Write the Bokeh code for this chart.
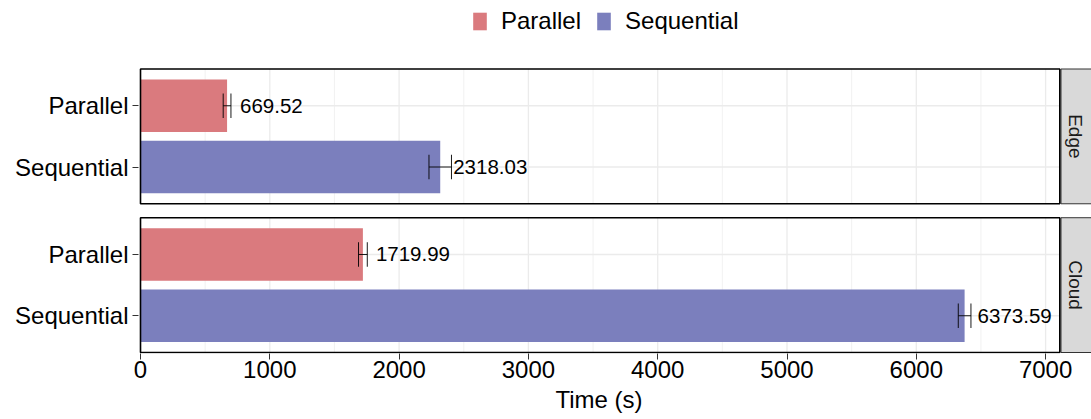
import math
from bokeh.plotting import figure
from bokeh.models import (Range1d, FixedTicker, Legend, LegendItem, ColumnDataSource,
                          CustomJSTickFormatter, Title)
from bokeh.embed import file_html
from bokeh.resources import INLINE
from bokeh.core.properties import value

# ---- data ----
panels = ["Edge", "Cloud"]
methods = ["Parallel", "Sequential"]
edge_times = [669.52, 2318.03]
edge_err = [30, 87]
cloud_times = [1719.99, 6373.59]
cloud_err = [34, 49]
x_ticks = [0, 1000, 2000, 3000, 4000, 5000, 6000, 7000]
x_minor = [500, 1500, 2500, 3500, 4500, 5500, 6500]
x_title = "Time (s)"
colors = ["#DA7A7E", "#7B7FBD"]

FONT = "Liberation Sans"
PANEL_XMAX = 7110
GAP = 0.228          # gap between panels, in category units
SPAN = 2.2           # panel height in category units

panel_data = {"Edge": (edge_times, edge_err), "Cloud": (cloud_times, cloud_err)}
panel_base = {"Cloud": 0.0, "Edge": SPAN + GAP}
method_off = {"Parallel": 1.0, "Sequential": 0.0}

def ypos(panel, method):
    return panel_base[panel] + method_off[method]

panel_lo = [panel_base[pn] - 0.6 for pn in panels]
panel_hi = [panel_base[pn] + 1.6 for pn in panels]
panel_mid = [panel_base[pn] + 0.5 for pn in panels]

ylo = panel_lo[1]
yhi = panel_hi[0]
pxu = 283.5 / (yhi - ylo)   # pixels per category unit

p = figure(width=1091, height=419, output_backend="svg", toolbar_location=None,
           x_range=Range1d(-15.5, 7355),
           y_range=Range1d(ylo - 1.0 / pxu, yhi + 68.5 / pxu),
           min_border_left=138, min_border_right=0, min_border_top=0, min_border_bottom=66)
p.outline_line_color = None
p.xgrid.visible = False
p.ygrid.visible = False
p.background_fill_color = "white"
p.border_fill_color = "white"

# gridlines (drawn per panel)
for lo, hi in zip(panel_lo, panel_hi):
    p.segment(x0=x_minor, x1=x_minor, y0=[lo] * len(x_minor), y1=[hi] * len(x_minor),
              line_color="#EBEBEB", line_width=0.7)
    p.segment(x0=x_ticks, x1=x_ticks, y0=[lo] * len(x_ticks), y1=[hi] * len(x_ticks),
              line_color="#EBEBEB", line_width=1.3)
all_y = []
all_names = []
for pn in panels:
    for m in methods:
        all_y.append(ypos(pn, m))
        all_names.append(m)
p.segment(x0=[0] * len(all_y), x1=[PANEL_XMAX] * len(all_y), y0=all_y, y1=all_y,
          line_color="#EBEBEB", line_width=1.3)

# bars, error bars, value labels
renderers = []
for mi, m in enumerate(methods):
    ys, vals, errs, labs = [], [], [], []
    for pn in panels:
        t, e = panel_data[pn]
        ys.append(ypos(pn, m))
        vals.append(t[mi])
        errs.append(e[mi])
        labs.append("%.2f" % t[mi])
    src = ColumnDataSource(dict(y=ys, v=vals, lo=[a - b for a, b in zip(vals, errs)],
                                hi=[a + b for a, b in zip(vals, errs)], lab=labs,
                                c0=[yy - 0.2 for yy in ys], c1=[yy + 0.2 for yy in ys]))
    r = p.hbar(y="y", left=0, right="v", height=0.86, source=src,
               fill_color=colors[mi], line_color=None)
    renderers.append(r)
    p.segment(x0="lo", x1="hi", y0="y", y1="y", source=src, line_color="black", line_width=0.9)
    p.segment(x0="lo", x1="lo", y0="c0", y1="c1", source=src, line_color="black", line_width=0.9)
    p.segment(x0="hi", x1="hi", y0="c0", y1="c1", source=src, line_color="black", line_width=0.9)
    p.text(x="v", y="y", text="lab", source=src, x_offset=13, text_align="left",
           text_baseline="middle", text_font=value(FONT), text_font_size="20.5px",
           text_color="black")

# facet strips
p.quad(left=[PANEL_XMAX + 9] * 2, right=[7400] * 2, bottom=panel_lo, top=panel_hi,
       fill_color="#D9D9D9", line_color="#333333", line_width=1)
p.text(x=[7233] * 2, y=panel_mid, text=panels, angle=-math.pi / 2, text_align="center",
       text_baseline="middle", text_font=value(FONT), text_font_size="19px",
       text_color="#1A1A1A")

# panel borders
p.quad(left=[0] * 2, right=[PANEL_XMAX] * 2, bottom=panel_lo, top=panel_hi,
       fill_color=None, line_color="black", line_width=1.6)

# axes
xa = p.xaxis[0]
xa.ticker = FixedTicker(ticks=x_ticks)
xa.axis_line_color = None
xa.major_tick_out = 6
xa.major_tick_in = 0
xa.minor_tick_out = 0
xa.minor_tick_in = 0
xa.major_tick_line_color = "#333333"
xa.major_label_text_font = FONT
xa.major_label_text_font_size = "24px"
xa.major_label_text_color = "black"
xa.major_label_standoff = 1

# axis title centred on the panel (not on the frame, which also holds the strips)
xt = Title(text=x_title, align="left", offset=417, text_font=FONT,
           text_font_size="24px", text_font_style="normal", text_color="black", standoff=7)
p.add_layout(xt, "below")

ya = p.yaxis[0]
ya.ticker = FixedTicker(ticks=all_y)
ya.formatter = CustomJSTickFormatter(args=dict(ys=all_y, names=all_names), code="""
let best = 0, bd = 1e9;
for (let i = 0; i < ys.length; i++) {
  const d = Math.abs(ys[i] - tick);
  if (d < bd) { bd = d; best = i; }
}
return names[best];
""")
ya.axis_line_color = None
ya.major_tick_out = 6
ya.major_tick_in = 0
ya.minor_tick_out = 0
ya.minor_tick_in = 0
ya.major_tick_line_color = "#333333"
ya.major_label_text_font = FONT
ya.major_label_text_font_size = "24px"
ya.major_label_text_color = "black"
ya.major_label_standoff = 4

legend = Legend(items=[LegendItem(label=m, renderers=[r]) for m, r in zip(methods, renderers)],
                orientation="horizontal", location=(333, 318),
                label_text_font=FONT, label_text_font_size="24px", label_text_color="black",
                glyph_width=17, glyph_height=22, label_standoff=13, spacing=14,
                padding=0, margin=0, border_line_color=None, background_fill_alpha=0)
p.add_layout(legend, "center")

open("out.html", "w").write(file_html(p, INLINE))
